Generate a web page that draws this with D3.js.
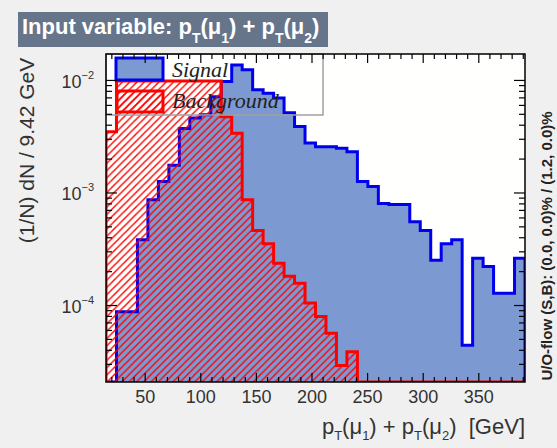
<!DOCTYPE html>
<html>
<head>
<meta charset="utf-8">
<script src="https://cdn.jsdelivr.net/npm/d3@7"></script>
<style>
  body { margin: 0; background: #f0f0f0; }
  svg { display: block; font-family: "Liberation Sans", Arial, sans-serif; }
</style>
</head>
<body>
<div id="chart"></div>
<script>
// histogram: 40 bins of 9.42 GeV
var binWidth = 9.42,
    xStart = 15.2;

var signal = [0, 8.7e-5, 8.7e-5, 3.8e-4, 8.6e-4, 1.25e-3, 1.75e-3, 3.7e-3, 4.6e-3, 4.9e-3,
              7.1e-3, 9.7e-3, 1.36e-2, 1.23e-2, 8.2e-3, 7.6e-3, 6.9e-3, 5.1e-3, 3.85e-3, 2.75e-3,
              2.55e-3, 2.55e-3, 2.47e-3, 2.3e-3, 1.25e-3, 1.13e-3, 8.0e-4, 7.8e-4, 7.8e-4, 5.5e-4,
              4.6e-4, 2.5e-4, 3.5e-4, 3.8e-4, 4.4e-5, 2.6e-4, 2.2e-4, 1.27e-4, 1.27e-4, 2.6e-4];

var background = [3.47e-3, 9.8e-3, 9.8e-3, 9.8e-3, 9.8e-3, 9.8e-3, 9.8e-3, 9.8e-3, 9.8e-3, 9.8e-3,
                  9.8e-3, 4.7e-3, 3.36e-3, 8.6e-4, 4.6e-4, 3.5e-4, 2.35e-4, 1.8e-4, 1.56e-4, 1.04e-4,
                  7.9e-5, 5.6e-5, 2.9e-5, 3.85e-5, 0, 0, 0, 0, 0, 0,
                  0, 0, 0, 0, 0, 0, 0, 0, 0, 0];

var xTickValues = [50, 100, 150, 200, 250, 300, 350];
var yTickExps = [-2, -3, -4];

var width = 557, height = 448;
var frame = {left: 106, right: 525, top: 54, bottom: 382};

var x = d3.scaleLinear()
    .domain([xStart, xStart + binWidth * signal.length])
    .range([frame.left, frame.right]);

var y = d3.scaleLog()
    .domain([2.07e-5, 0.0170])
    .range([frame.bottom, frame.top]);

var svg = d3.select("#chart").append("svg")
    .attr("width", width)
    .attr("height", height);

svg.append("rect")
    .attr("width", width).attr("height", height)
    .attr("fill", "#f0f0f0");

var defs = svg.append("defs");

defs.append("clipPath").attr("id", "frameClip")
    .append("rect")
    .attr("x", frame.left).attr("y", frame.top)
    .attr("width", frame.right - frame.left)
    .attr("height", frame.bottom - frame.top);

var hatch = defs.append("pattern")
    .attr("id", "hatch")
    .attr("patternUnits", "userSpaceOnUse")
    .attr("width", 7.3).attr("height", 7.3);
hatch.append("path")
    .attr("d", "M0,7.3L7.3,0M-1,1L1,-1M6.3,8.3L8.3,6.3")
    .attr("stroke", "#ff0000")
    .attr("stroke-width", 1.4);

// title box
svg.append("rect")
    .attr("x", 18).attr("y", 12)
    .attr("width", 310).attr("height", 35)
    .attr("fill", "#66758a");

function richText(sel, parts, subSize, drop) {
    var down = false;
    parts.forEach(function(p) {
        var t = sel.append("tspan").text(p[0]);
        if (p[1] && !down) { t.attr("dy", drop).attr("font-size", subSize); down = true; }
        else if (p[1]) { t.attr("font-size", subSize); }
        else if (down) { t.attr("dy", -drop); down = false; }
    });
}

var title = svg.append("text")
    .attr("x", 22).attr("y", 34)
    .attr("fill", "#ffffff")
    .attr("font-weight", "bold")
    .attr("font-size", 22)
    .style("white-space", "pre");
richText(title, [["Input variable: p"], ["T", 1], ["(\u03bc"], ["1", 1], [") + p"], ["T", 1], ["(\u03bc"], ["2", 1], [")"]], 14, 9);

// frame
svg.append("rect")
    .attr("x", frame.left).attr("y", frame.top)
    .attr("width", frame.right - frame.left)
    .attr("height", frame.bottom - frame.top)
    .attr("fill", "#fffffd");

function stepPath(values) {
    var lo = y.domain()[0];
    var pts = [[x(xStart), frame.bottom + 2]];
    values.forEach(function(v, i) {
        var yy = y(Math.max(v, lo));
        pts.push([x(xStart + i * binWidth), yy]);
        pts.push([x(xStart + (i + 1) * binWidth), yy]);
    });
    pts.push([x(xStart + values.length * binWidth), frame.bottom + 2]);
    return d3.line()(pts);
}

var plot = svg.append("g").attr("clip-path", "url(#frameClip)");

plot.append("path")
    .attr("d", stepPath(signal))
    .attr("fill", "#7d99d1")
    .attr("stroke", "#0000ee")
    .attr("stroke-width", 3);

plot.append("path")
    .attr("d", stepPath(background))
    .attr("fill", "url(#hatch)")
    .attr("stroke", "#ff0000")
    .attr("stroke-width", 3);

// legend
var legend = svg.append("g");
legend.append("rect")
    .attr("x", frame.left).attr("y", frame.top)
    .attr("width", 217).attr("height", 61)
    .attr("fill", "none")
    .attr("stroke", "#a0a0a0")
    .attr("stroke-width", 1.5);
legend.append("rect")
    .attr("x", 116).attr("y", 58).attr("width", 47).attr("height", 22)
    .attr("fill", "#7d99d1").attr("stroke", "#0000ee").attr("stroke-width", 3);
legend.append("rect")
    .attr("x", 117).attr("y", 91).attr("width", 46).attr("height", 21)
    .attr("fill", "url(#hatch)").attr("stroke", "#ff0000").attr("stroke-width", 3);
legend.selectAll("text.entry")
    .data(["Signal", "Background"])
    .enter().append("text")
    .attr("class", "entry")
    .attr("x", 172)
    .attr("y", function(d, i) { return 77 + i * 31; })
    .attr("font-family", "'Liberation Serif', 'Times New Roman', serif")
    .attr("font-style", "italic")
    .attr("font-size", 22)
    .attr("fill", "#222")
    .text(function(d) { return d; });

// axes (ticks inside frame)
var xMinor = d3.range(20, 391, 10).filter(function(v) { return v % 50 !== 0; });
var yMajor = yTickExps.map(function(e) { return Math.pow(10, e); });
var yMinor = [];
[-5, -4, -3, -2].forEach(function(e) {
    d3.range(2, 10).forEach(function(m) {
        var v = m * Math.pow(10, e);
        if (v > y.domain()[0] && v < y.domain()[1]) yMinor.push(v);
    });
});

function styleAxis(g) {
    g.select(".domain").remove();
    g.selectAll("line").attr("stroke", "#000").attr("stroke-width", 1.2);
}

svg.append("g").attr("transform", "translate(0," + frame.bottom + ")")
    .call(d3.axisBottom(x).tickValues(xMinor).tickSize(-5).tickFormat(""))
    .call(styleAxis);
var xAxis = svg.append("g").attr("transform", "translate(0," + frame.bottom + ")")
    .call(d3.axisBottom(x).tickValues(xTickValues).tickSize(-9).tickPadding(8))
    .call(styleAxis);
xAxis.selectAll("text")
    .attr("font-size", 18)
    .attr("font-family", "'Liberation Sans', Arial, sans-serif")
    .attr("fill", "#333");

svg.append("g").attr("transform", "translate(0," + frame.top + ")")
    .call(d3.axisTop(x).tickValues(xMinor).tickSize(-5).tickFormat(""))
    .call(styleAxis);
svg.append("g").attr("transform", "translate(0," + frame.top + ")")
    .call(d3.axisTop(x).tickValues(xTickValues).tickSize(-9).tickFormat(""))
    .call(styleAxis);

[["left", frame.left, d3.axisLeft], ["right", frame.right, d3.axisRight]].forEach(function(a) {
    svg.append("g").attr("transform", "translate(" + a[1] + ",0)")
        .call(a[2](y).tickValues(yMinor).tickSize(-6).tickFormat(""))
        .call(styleAxis);
    svg.append("g").attr("transform", "translate(" + a[1] + ",0)")
        .call(a[2](y).tickValues(yMajor).tickSize(-11).tickFormat(""))
        .call(styleAxis);
});

var yLabels = svg.selectAll("text.ylab")
    .data(yTickExps)
    .enter().append("text")
    .attr("class", "ylab")
    .attr("x", 94)
    .attr("y", function(e) { return y(Math.pow(10, e)) + 8; })
    .attr("text-anchor", "end")
    .attr("fill", "#333");
yLabels.append("tspan").attr("font-size", 18).text("10");
yLabels.append("tspan").attr("font-size", 11).attr("dy", -9)
    .text(function(e) { return "\u2212" + (-e); });

// frame border
svg.append("rect")
    .attr("x", frame.left).attr("y", frame.top)
    .attr("width", frame.right - frame.left)
    .attr("height", frame.bottom - frame.top)
    .attr("fill", "none")
    .attr("stroke", "#000")
    .attr("stroke-width", 1.5);

// axis titles
var xTitle = svg.append("text")
    .attr("x", frame.right).attr("y", 434)
    .attr("text-anchor", "end")
    .attr("font-size", 22)
    .attr("fill", "#333")
    .style("white-space", "pre");
richText(xTitle, [["p"], ["T", 1], ["(\u03bc"], ["1", 1], [") + p"], ["T", 1], ["(\u03bc"], ["2", 1], [")  [GeV]"]], 13, 6);

svg.append("text")
    .attr("transform", "translate(34," + ((frame.top + 243) / 2 + 2) + ") rotate(-90)")
    .attr("text-anchor", "middle")
    .attr("font-size", 21)
    .attr("fill", "#333")
    .text("(1/N) dN / 9.42 GeV");

svg.append("text")
    .attr("transform", "translate(552,246) rotate(-90)")
    .attr("text-anchor", "middle")
    .attr("font-size", 15)
    .attr("font-weight", "bold")
    .attr("fill", "#222")
    .text("U/O-flow (S,B): (0.0, 0.0)% / (1.2, 0.0)%");
</script>
</body>
</html>
